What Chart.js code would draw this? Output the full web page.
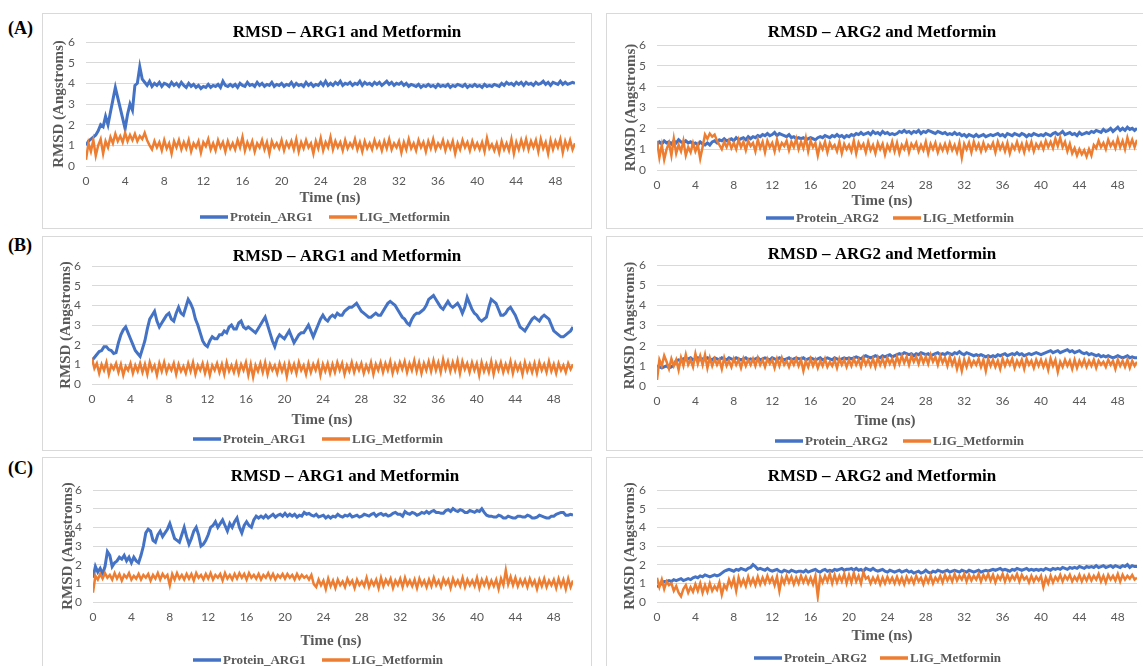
<!DOCTYPE html>
<html>
<head>
<meta charset="utf-8">
<script src="https://cdn.jsdelivr.net/npm/chart.js@4.4.0/dist/chart.umd.min.js"></script>
<style>
  body { margin: 0; width: 1143px; height: 666px; overflow: hidden; background: #fff; position: relative; }
  .box { position: absolute; border: 1px solid #d9d9d9; box-sizing: border-box; }
  canvas { position: absolute; }
  .tag { position: absolute; left: 8px; font: bold 18px "Liberation Serif", serif; color: #000; line-height: 20px; }
</style>
</head>
<body>
<div class="tag" style="top:18px">(A)</div>
<div class="tag" style="top:235px">(B)</div>
<div class="tag" style="top:458px">(C)</div>

<script>
// time axis (ns), one frame every 0.25 ns
const timeNs = [
  0,0.25,0.5,0.75,1,1.25,1.5,1.75,2,2.25,2.5,2.75,3,3.25,3.5,3.75,4,4.25,4.5,4.75,
  5,5.25,5.5,5.75,6,6.25,6.5,6.75,7,7.25,7.5,7.75,8,8.25,8.5,8.75,9,9.25,9.5,9.75,
  10,10.25,10.5,10.75,11,11.25,11.5,11.75,12,12.25,12.5,12.75,13,13.25,13.5,13.75,14,14.25,14.5,14.75,
  15,15.25,15.5,15.75,16,16.25,16.5,16.75,17,17.25,17.5,17.75,18,18.25,18.5,18.75,19,19.25,19.5,19.75,
  20,20.25,20.5,20.75,21,21.25,21.5,21.75,22,22.25,22.5,22.75,23,23.25,23.5,23.75,24,24.25,24.5,24.75,
  25,25.25,25.5,25.75,26,26.25,26.5,26.75,27,27.25,27.5,27.75,28,28.25,28.5,28.75,29,29.25,29.5,29.75,
  30,30.25,30.5,30.75,31,31.25,31.5,31.75,32,32.25,32.5,32.75,33,33.25,33.5,33.75,34,34.25,34.5,34.75,
  35,35.25,35.5,35.75,36,36.25,36.5,36.75,37,37.25,37.5,37.75,38,38.25,38.5,38.75,39,39.25,39.5,39.75,
  40,40.25,40.5,40.75,41,41.25,41.5,41.75,42,42.25,42.5,42.75,43,43.25,43.5,43.75,44,44.25,44.5,44.75,
  45,45.25,45.5,45.75,46,46.25,46.5,46.75,47,47.25,47.5,47.75,48,48.25,48.5,48.75,49,49.25,49.5,49.75,
  50];

const yTicks = [0, 1, 2, 3, 4, 5, 6];
const xTicks = [0, 4, 8, 12, 16, 20, 24, 28, 32, 36, 40, 44, 48];

// (A) ARG1 / Metformin
const aProtein = [
  1.0,1.2,1.3,1.4,1.5,1.7,2.0,1.9,2.4,2.0,2.6,3.2,3.8,3.3,2.8,2.3,1.8,2.5,3.0,2.7,
  3.9,4.0,4.8,4.2,4.05,3.9,4.1,3.85,4.0,3.9,4.05,3.85,4.0,3.95,3.85,4.05,3.9,4.0,3.85,4.05,
  3.9,3.8,4.0,3.85,3.95,3.8,3.9,3.75,3.85,3.8,3.95,3.8,3.9,3.85,3.95,3.8,4.1,3.9,3.85,3.95,
  3.85,3.95,3.8,4.0,3.9,3.85,4.05,3.9,3.95,3.85,4.05,3.9,4.0,3.85,3.95,3.9,4.05,3.85,3.95,3.9,
  4.0,3.85,3.95,3.9,4.05,3.85,4.0,3.9,3.95,3.85,4.05,3.9,4.0,3.85,3.95,3.9,4.05,3.9,4.1,3.9,
  4.0,3.9,4.05,3.95,4.1,3.9,4.0,3.95,4.05,3.9,4.0,3.95,4.1,3.9,4.05,3.95,4.0,3.9,4.05,3.95,
  4.05,3.9,4.0,4.1,3.95,4.05,3.9,4.0,3.95,4.05,3.9,4.0,3.85,3.95,3.9,3.85,3.95,3.8,3.9,3.85,
  3.95,3.85,3.9,3.8,3.95,3.85,3.9,3.85,3.95,3.8,3.9,3.85,3.95,3.9,3.85,3.95,3.8,3.9,3.85,3.95,
  3.85,3.9,3.8,3.95,3.85,3.9,3.85,3.95,3.9,3.85,4.0,3.9,4.05,3.95,4.0,3.9,4.05,3.95,4.05,3.9,
  4.05,3.95,4.0,3.9,4.05,3.95,4.0,4.1,3.95,4.05,3.9,4.05,4.0,3.95,4.1,3.95,4.05,3.95,4.0,4.05,
  4.0];
const aLig = [
  0.3,1.1,0.7,1.25,0.5,1.0,1.3,0.6,1.2,0.9,1.4,1.1,1.55,1.2,1.45,1.15,1.6,1.2,1.5,1.25,
  1.55,1.2,1.45,1.3,1.6,1.25,1.0,0.8,1.2,0.9,1.15,0.75,1.25,0.85,1.1,0.6,1.2,0.9,1.25,0.8,
  1.15,0.85,1.25,0.7,1.1,0.9,1.2,0.65,1.15,0.95,1.3,0.8,1.1,0.75,1.25,0.9,1.15,0.7,1.2,0.85,
  1.1,0.8,1.25,0.9,1.4,0.75,1.15,0.85,1.2,0.7,1.1,0.9,1.25,0.8,1.15,0.6,1.2,0.9,1.1,0.85,
  1.25,0.75,1.15,0.9,1.2,0.8,1.3,0.7,1.15,0.85,1.25,0.9,1.1,0.6,1.2,0.85,1.35,0.75,1.15,0.9,
  1.4,0.8,1.2,0.9,1.15,0.75,1.25,0.85,1.1,0.9,1.3,0.8,1.15,0.7,1.2,0.85,1.1,0.8,1.25,0.9,
  1.15,0.75,1.2,0.85,1.3,0.8,1.1,0.9,1.2,0.65,1.15,0.8,1.3,0.85,1.1,0.75,1.25,0.9,1.15,0.7,
  1.2,0.85,1.3,0.8,1.1,0.9,1.25,0.75,1.15,0.85,1.2,0.6,1.1,0.8,1.25,0.9,1.15,0.75,1.2,0.85,
  1.1,0.8,1.15,0.7,1.35,0.85,1.05,0.75,1.1,0.65,1.2,0.8,1.1,0.75,1.3,0.6,1.15,0.8,1.25,0.85,
  1.3,0.8,1.2,0.9,1.25,0.7,1.3,0.85,1.15,0.6,1.25,0.8,1.2,0.9,1.3,0.65,1.2,0.85,1.25,0.8,
  1.1];

// (A) ARG2 / Metformin
const a2Protein = [
  1.2,1.35,1.25,1.4,1.3,1.35,1.25,1.4,1.3,1.45,1.35,1.3,1.4,1.3,1.35,1.25,1.3,1.2,1.35,1.25,
  1.2,1.3,1.2,1.35,1.4,1.3,1.45,1.4,1.5,1.4,1.45,1.5,1.4,1.55,1.45,1.5,1.55,1.45,1.6,1.5,
  1.6,1.55,1.65,1.6,1.7,1.65,1.75,1.65,1.7,1.8,1.65,1.75,1.7,1.65,1.6,1.7,1.55,1.6,1.5,1.55,
  1.5,1.55,1.45,1.5,1.55,1.5,1.45,1.55,1.6,1.55,1.65,1.6,1.55,1.65,1.6,1.7,1.6,1.65,1.55,1.65,
  1.6,1.7,1.65,1.75,1.7,1.8,1.7,1.75,1.8,1.7,1.85,1.75,1.8,1.7,1.85,1.75,1.8,1.7,1.75,1.7,
  1.75,1.85,1.8,1.9,1.8,1.85,1.75,1.85,1.8,1.9,1.75,1.85,1.8,1.9,1.85,1.8,1.75,1.85,1.8,1.75,
  1.8,1.7,1.75,1.7,1.8,1.7,1.75,1.65,1.7,1.6,1.7,1.65,1.6,1.7,1.6,1.65,1.7,1.6,1.65,1.7,
  1.65,1.7,1.75,1.65,1.7,1.6,1.75,1.7,1.65,1.75,1.7,1.65,1.75,1.7,1.6,1.7,1.65,1.75,1.7,1.65,
  1.7,1.65,1.75,1.7,1.65,1.75,1.8,1.7,1.75,1.85,1.7,1.75,1.8,1.7,1.75,1.65,1.8,1.7,1.75,1.8,
  1.75,1.85,1.8,1.9,1.85,1.8,1.95,1.85,1.9,2.0,1.85,1.95,2.05,1.9,2.0,1.9,2.05,1.95,2.0,1.9,
  2.0];
const a2Lig = [
  1.4,0.6,1.2,0.5,1.0,1.3,0.7,1.5,0.8,1.2,0.9,1.4,0.7,1.1,0.85,1.3,0.9,1.2,0.55,1.1,
  1.7,1.5,1.75,1.6,1.7,1.4,1.2,1.0,1.35,1.1,1.4,1.05,1.3,1.0,1.45,1.1,1.35,0.95,1.4,1.15,
  1.3,0.9,1.45,1.05,1.35,0.85,1.4,1.1,1.3,0.9,1.45,1.0,1.3,1.15,1.4,0.95,1.35,1.1,1.5,1.0,
  1.35,1.05,1.55,0.9,1.4,1.1,1.3,0.7,1.25,1.0,1.35,0.85,1.3,1.05,1.2,0.9,1.35,0.8,1.25,1.0,
  1.2,0.9,1.4,0.8,1.3,1.05,1.25,0.85,1.35,0.95,1.2,0.8,1.3,1.0,1.25,0.75,1.2,0.95,1.35,0.9,
  1.3,0.8,1.2,1.0,1.35,0.85,1.25,1.05,1.3,0.9,1.2,0.95,1.35,0.8,1.25,1.0,1.3,0.85,1.2,0.95,
  1.25,0.9,1.3,0.95,1.2,0.85,1.3,0.6,1.25,1.0,1.3,0.85,1.35,1.0,1.25,0.9,1.3,0.95,1.2,1.05,
  1.3,0.85,1.35,1.0,1.25,0.9,1.3,0.8,1.2,1.0,1.35,0.95,1.25,0.85,1.3,1.0,1.35,0.9,1.25,1.05,
  1.3,1.0,1.4,1.1,1.35,1.05,1.5,1.15,1.55,1.1,1.35,0.9,1.25,0.8,1.05,0.7,1.0,0.75,0.95,0.65,
  1.0,0.7,1.2,1.05,1.4,1.1,1.3,1.0,1.45,1.15,1.35,1.05,1.5,1.1,1.4,1.0,1.55,1.15,1.45,1.1,
  1.45];

// (B) ARG1 / Metformin
const bProtein = [
  1.2,1.35,1.5,1.65,1.7,1.9,1.9,1.75,1.7,1.55,1.6,2.1,2.5,2.75,2.9,2.6,2.3,2.0,1.7,1.55,
  1.4,1.8,2.2,2.8,3.3,3.5,3.7,3.2,2.9,3.1,3.3,3.5,3.6,3.3,3.2,3.6,3.9,3.6,3.5,3.9,
  4.3,4.1,3.8,3.3,3.0,2.6,2.2,2.0,1.9,2.2,2.4,2.3,2.3,2.5,2.5,2.7,2.6,2.9,3.0,2.8,
  2.8,3.1,3.2,2.9,2.8,2.9,2.8,2.7,2.6,2.8,3.0,3.2,3.4,3.0,2.6,2.2,1.9,2.3,2.5,2.4,
  2.3,2.5,2.7,2.4,2.1,2.3,2.5,2.6,2.6,2.8,3.0,2.7,2.4,2.7,3.0,3.3,3.5,3.3,3.2,3.4,
  3.5,3.4,3.6,3.5,3.5,3.7,3.8,3.9,3.9,4.0,4.1,3.9,3.7,3.6,3.5,3.4,3.4,3.5,3.6,3.5,
  3.5,3.7,3.9,4.1,4.2,4.1,4.0,3.8,3.6,3.4,3.3,3.1,3.0,3.3,3.5,3.6,3.6,3.7,3.8,4.0,
  4.3,4.4,4.5,4.3,4.1,3.9,3.8,4.0,4.2,4.0,3.9,4.0,4.1,3.9,3.6,3.9,4.4,4.1,3.8,3.6,
  3.5,3.3,3.2,3.3,3.4,3.9,4.3,4.2,4.1,3.8,3.5,3.5,3.6,3.8,3.9,3.7,3.5,3.2,2.9,2.8,
  2.7,2.9,3.1,3.3,3.4,3.3,3.2,3.4,3.5,3.4,3.3,3.0,2.7,2.6,2.5,2.4,2.4,2.5,2.6,2.7,
  2.9];
const bLig = [
  1.3,0.8,1.05,0.55,1.0,0.7,1.1,0.5,0.95,0.75,1.05,0.6,1.0,0.45,0.9,0.7,1.05,0.55,0.95,0.65,
  1.05,0.6,1.0,0.5,1.1,0.7,0.95,0.45,1.05,0.65,1.1,0.6,0.95,0.7,1.05,0.5,1.0,0.65,0.9,0.55,
  1.05,0.65,1.1,0.5,0.95,0.7,1.05,0.55,1.0,0.45,0.95,0.7,1.05,0.6,1.0,0.5,1.1,0.65,0.95,0.6,
  1.05,0.55,1.0,0.7,1.1,0.45,1.0,0.35,0.95,0.65,1.05,0.6,1.1,0.5,1.0,0.7,0.95,0.55,1.05,0.65,
  1.0,0.4,1.05,0.65,1.0,0.55,1.1,0.7,0.95,0.5,1.05,0.6,1.0,0.7,1.1,0.45,1.0,0.65,1.05,0.55,
  1.0,0.6,1.1,0.7,1.05,0.5,0.95,0.65,1.1,0.6,1.0,0.7,1.05,0.55,0.95,0.65,1.1,0.5,1.0,0.7,
  1.1,0.6,1.05,0.7,1.15,0.55,1.0,0.65,1.1,0.75,1.15,0.6,1.05,0.7,1.2,0.65,1.1,0.55,1.05,0.7,
  1.15,0.65,1.2,0.7,1.1,0.6,1.25,0.75,1.15,0.65,1.1,0.7,1.2,0.55,1.15,0.75,1.05,0.6,1.1,0.7,
  1.05,0.45,1.1,0.65,1.0,0.6,1.15,0.5,1.05,0.7,1.1,0.6,1.0,0.65,1.15,0.55,1.05,0.7,1.0,0.5,
  1.1,0.65,1.0,0.6,1.05,0.55,1.1,0.7,1.0,0.6,1.15,0.65,1.0,0.55,1.05,0.7,0.95,0.6,1.05,0.75,
  1.0];

// (B) ARG2 / Metformin
const b2Protein = [
  1.0,0.95,0.9,0.95,1.0,0.9,0.95,1.05,1.25,1.3,1.25,1.35,1.3,1.35,1.4,1.3,1.35,1.4,1.3,1.35,
  1.3,1.4,1.35,1.3,1.4,1.35,1.3,1.4,1.35,1.3,1.4,1.35,1.3,1.4,1.35,1.3,1.35,1.4,1.3,1.35,
  1.3,1.35,1.4,1.3,1.35,1.4,1.35,1.3,1.4,1.35,1.3,1.4,1.35,1.3,1.35,1.4,1.3,1.35,1.4,1.35,
  1.35,1.4,1.3,1.35,1.4,1.35,1.3,1.35,1.4,1.3,1.35,1.4,1.35,1.3,1.4,1.35,1.3,1.35,1.4,1.35,
  1.4,1.35,1.4,1.45,1.4,1.35,1.45,1.5,1.45,1.4,1.45,1.5,1.45,1.4,1.5,1.45,1.5,1.55,1.45,1.5,
  1.55,1.6,1.55,1.65,1.6,1.55,1.6,1.5,1.6,1.55,1.65,1.6,1.55,1.6,1.5,1.55,1.6,1.65,1.55,1.6,
  1.55,1.65,1.6,1.55,1.65,1.6,1.7,1.6,1.55,1.65,1.6,1.55,1.5,1.55,1.5,1.55,1.5,1.45,1.5,1.45,
  1.5,1.45,1.55,1.5,1.55,1.6,1.5,1.55,1.6,1.55,1.65,1.55,1.6,1.5,1.55,1.6,1.55,1.6,1.65,1.6,
  1.55,1.6,1.65,1.7,1.75,1.65,1.7,1.75,1.65,1.7,1.75,1.8,1.7,1.75,1.65,1.7,1.75,1.65,1.6,1.65,
  1.55,1.6,1.55,1.5,1.55,1.45,1.5,1.45,1.5,1.45,1.4,1.45,1.5,1.45,1.4,1.45,1.5,1.4,1.45,1.4,
  1.4];
const b2Lig = [
  0.3,1.3,1.0,1.5,1.2,0.85,1.35,1.0,1.3,0.8,1.4,1.0,1.55,1.05,1.3,0.95,1.6,1.1,1.5,1.05,
  1.55,0.9,1.4,1.0,1.35,1.05,1.3,0.85,1.4,1.0,1.25,0.95,1.35,1.05,1.3,0.9,1.35,1.0,1.3,1.05,
  1.35,1.0,1.4,1.05,1.3,0.95,1.35,1.1,1.3,0.9,1.35,1.0,1.4,1.05,1.25,0.95,1.3,1.05,1.35,1.0,
  1.3,0.75,1.25,0.95,1.35,1.0,1.3,0.9,1.25,1.0,1.35,0.95,1.2,1.0,1.3,0.9,1.35,1.05,1.3,0.95,
  1.3,1.0,1.35,1.05,1.3,0.95,1.4,1.05,1.3,1.0,1.35,0.95,1.4,1.05,1.35,1.0,1.4,1.1,1.35,1.0,
  1.45,1.1,1.5,1.15,1.45,1.05,1.5,1.2,1.45,1.1,1.5,1.15,1.45,1.1,1.55,1.2,1.45,1.05,1.5,1.15,
  1.4,1.0,1.45,1.05,1.35,0.85,1.3,0.75,1.3,0.95,1.35,1.0,1.25,1.05,1.35,0.95,1.3,0.75,1.35,1.0,
  1.3,0.95,1.25,0.85,1.35,1.0,1.3,1.05,1.35,0.9,1.25,1.0,1.3,0.85,1.35,1.05,1.25,0.9,1.3,1.0,
  1.3,0.95,1.25,0.8,1.35,1.0,1.3,0.7,1.2,0.95,1.3,1.0,1.25,0.85,1.3,0.9,1.25,1.0,1.3,0.95,
  1.25,1.0,1.3,0.9,1.25,1.05,1.2,0.95,1.3,1.05,1.25,0.85,1.3,1.0,1.25,0.95,1.3,0.9,1.25,1.0,
  1.2];

// (C) ARG1 / Metformin
const cProtein = [
  1.3,1.9,1.6,1.8,1.5,1.9,2.7,2.5,1.9,2.1,2.2,2.4,2.3,2.5,2.2,2.4,2.1,2.4,2.2,2.1,
  2.5,3.0,3.7,3.9,3.8,3.3,3.2,3.6,3.8,3.5,3.7,3.9,4.2,3.8,3.4,3.3,3.2,3.6,4.0,3.5,
  3.1,3.4,3.8,4.0,3.6,3.0,3.1,3.3,3.6,4.0,4.1,4.3,4.0,4.2,4.4,4.1,3.8,4.2,4.0,4.3,
  4.5,4.0,3.7,4.1,4.3,4.1,4.0,4.4,4.6,4.5,4.6,4.5,4.65,4.5,4.6,4.7,4.55,4.65,4.7,4.6,
  4.75,4.6,4.7,4.6,4.7,4.55,4.65,4.6,4.8,4.7,4.75,4.65,4.6,4.7,4.55,4.6,4.65,4.5,4.6,4.5,
  4.6,4.55,4.7,4.6,4.55,4.65,4.6,4.7,4.55,4.6,4.65,4.55,4.6,4.7,4.65,4.6,4.7,4.75,4.6,4.7,
  4.75,4.65,4.7,4.6,4.65,4.75,4.8,4.7,4.7,4.6,4.85,4.75,4.7,4.8,4.75,4.65,4.7,4.8,4.75,4.85,
  4.75,4.85,4.9,4.8,4.8,4.75,4.75,4.9,4.95,4.85,5.0,4.9,4.85,4.95,4.9,4.8,4.8,4.9,4.85,4.8,
  4.9,4.85,5.0,4.8,4.65,4.6,4.6,4.55,4.55,4.65,4.6,4.5,4.5,4.6,4.55,4.5,4.5,4.6,4.6,4.55,
  4.55,4.65,4.6,4.5,4.5,4.55,4.65,4.6,4.55,4.5,4.5,4.6,4.6,4.7,4.75,4.8,4.8,4.65,4.65,4.7,
  4.65];
const cLig = [
  0.5,1.4,1.2,1.5,1.25,1.55,1.3,1.45,1.2,1.55,1.25,1.5,1.15,1.45,1.3,1.55,1.2,1.4,1.25,1.5,
  1.2,1.45,1.3,1.5,1.15,1.45,1.25,1.55,1.2,1.5,1.3,1.45,0.9,1.5,1.2,1.55,1.25,1.45,1.2,1.5,
  1.25,1.5,1.15,1.55,1.3,1.45,1.2,1.5,1.25,1.55,1.2,1.45,1.3,1.5,1.15,1.55,1.25,1.45,1.2,1.5,
  1.25,1.55,1.3,1.5,1.2,1.55,1.3,1.45,1.25,1.5,1.2,1.45,1.3,1.55,1.25,1.5,1.2,1.45,1.3,1.5,
  1.25,1.5,1.3,1.45,1.2,1.5,1.25,1.45,1.3,1.4,1.2,1.45,0.95,0.8,1.2,0.9,1.15,0.7,1.25,0.85,
  1.15,0.75,1.2,0.9,1.1,0.8,1.25,0.95,1.15,0.75,1.2,0.9,1.1,0.85,1.3,0.8,1.15,0.9,1.2,0.75,
  1.3,0.85,1.2,0.95,1.25,0.75,1.15,0.9,1.25,0.8,1.3,0.9,1.15,0.85,1.2,0.75,1.25,0.9,1.15,0.8,
  1.2,0.85,1.3,0.9,1.15,0.8,1.25,0.95,1.2,0.75,1.25,0.9,1.15,0.85,1.3,0.8,1.2,0.9,1.15,0.85,
  1.3,0.75,1.2,0.9,1.25,0.8,1.15,0.85,1.2,0.7,1.25,0.9,1.7,0.95,1.35,0.9,1.3,0.85,1.2,0.9,
  1.2,0.8,1.25,0.9,1.15,0.7,1.2,0.85,1.25,0.8,1.15,0.9,1.2,0.75,1.25,0.85,1.2,0.7,1.25,0.8,
  1.15];

// (C) ARG2 / Metformin
const c2Protein = [
  0.8,0.9,1.0,1.1,1.1,1.15,1.1,1.2,1.15,1.2,1.25,1.15,1.2,1.25,1.2,1.3,1.35,1.3,1.4,1.35,
  1.45,1.4,1.35,1.4,1.45,1.4,1.45,1.55,1.65,1.7,1.75,1.7,1.65,1.75,1.7,1.8,1.75,1.7,1.8,1.85,
  2.0,1.9,1.75,1.8,1.75,1.7,1.8,1.7,1.65,1.7,1.75,1.65,1.6,1.7,1.65,1.6,1.7,1.65,1.6,1.65,
  1.65,1.6,1.7,1.6,1.65,1.7,1.75,1.65,1.6,1.7,1.75,1.65,1.7,1.65,1.75,1.7,1.75,1.8,1.7,1.75,
  1.75,1.8,1.7,1.8,1.7,1.75,1.65,1.8,1.75,1.7,1.8,1.7,1.65,1.7,1.75,1.65,1.6,1.7,1.65,1.6,
  1.65,1.7,1.6,1.65,1.7,1.6,1.65,1.55,1.6,1.65,1.55,1.6,1.7,1.6,1.55,1.65,1.6,1.7,1.65,1.6,
  1.65,1.7,1.6,1.65,1.7,1.65,1.6,1.7,1.65,1.6,1.7,1.65,1.6,1.65,1.7,1.6,1.65,1.7,1.65,1.7,
  1.75,1.7,1.75,1.8,1.7,1.75,1.7,1.65,1.75,1.7,1.8,1.75,1.7,1.75,1.8,1.7,1.75,1.7,1.75,1.7,
  1.75,1.7,1.8,1.75,1.7,1.8,1.75,1.8,1.75,1.85,1.8,1.75,1.85,1.8,1.85,1.8,1.9,1.85,1.8,1.9,
  1.85,1.9,1.85,1.95,1.85,1.9,1.95,1.85,1.9,1.95,1.85,1.95,1.9,1.85,1.95,1.9,2.0,1.85,1.95,1.9,
  1.9];
const c2Lig = [
  1.3,0.8,1.2,0.7,1.1,0.9,1.0,0.6,0.85,0.5,0.3,0.7,0.9,0.5,0.8,0.55,0.95,0.6,1.0,0.5,
  0.9,0.55,1.0,0.6,0.85,0.65,1.05,0.4,0.9,0.7,1.2,0.85,1.25,0.6,1.3,0.9,1.2,0.85,1.35,0.95,
  1.25,0.9,1.35,0.95,1.3,1.0,1.4,1.05,1.3,0.9,1.35,0.6,1.3,1.0,1.4,1.05,1.35,0.95,1.3,1.0,
  1.4,1.05,1.35,1.0,1.3,0.95,1.4,0.3,1.35,1.05,1.4,1.1,1.5,1.0,1.45,1.05,1.4,1.1,1.5,1.0,
  1.45,1.05,1.55,1.1,1.4,1.0,1.6,1.25,1.35,1.0,1.3,1.05,1.35,0.95,1.3,1.0,1.35,1.05,1.3,1.0,
  1.35,1.0,1.3,0.95,1.35,1.05,1.3,1.0,1.4,1.1,1.3,0.95,1.35,1.05,1.4,1.0,1.3,1.1,1.4,1.05,
  1.45,1.15,1.4,1.1,1.5,1.15,1.4,1.2,1.5,1.1,1.45,1.15,1.4,1.2,1.5,1.1,1.45,1.2,1.5,1.15,
  1.45,1.05,1.4,1.2,1.5,1.1,1.45,1.15,1.4,1.2,1.5,1.1,1.45,1.2,1.35,1.05,1.4,1.1,1.35,1.15,
  1.4,0.8,1.3,1.0,1.4,1.05,1.35,1.15,1.45,1.1,1.4,1.2,1.45,1.1,1.35,1.15,1.45,1.1,1.4,1.15,
  1.45,1.15,1.4,1.2,1.5,1.1,1.4,1.05,1.45,1.2,1.4,1.15,1.5,1.1,1.45,1.2,1.4,1.25,1.45,1.2,
  1.3];

const BLUE = '#4472C4';
const ORANGE = '#ED7D31';
const GRID = '#d9d9d9';
const TEXT_GREY = '#595959';

// Panel layout: box = [x, y, w, h], plot = [left, top, right, bottom] (page coords)
const panels = [
  { protein: aProtein, lig: aLig, proteinLabel: 'Protein_ARG1', title: 'RMSD \u2013 ARG1 and Metformin',
    box: [42, 13, 550, 216], plot: [86, 42, 575, 166], yTitleX: 59,
    titleXY: [347, 33], xTitleXY: [330, 198], legend: [200, 329, 217] },
  { protein: a2Protein, lig: a2Lig, proteinLabel: 'Protein_ARG2', title: 'RMSD \u2013 ARG2 and Metformin',
    box: [606, 13, 545, 216], plot: [657, 45, 1137, 170], yTitleX: 631,
    titleXY: [882, 33], xTitleXY: [882, 201], legend: [766, 893, 218] },
  { protein: bProtein, lig: bLig, proteinLabel: 'Protein_ARG1', title: 'RMSD \u2013 ARG1 and Metformin',
    box: [42, 236, 550, 215], plot: [92, 266, 573, 384], yTitleX: 66,
    titleXY: [347, 257], xTitleXY: [322, 420], legend: [193, 322, 439] },
  { protein: b2Protein, lig: b2Lig, proteinLabel: 'Protein_ARG2', title: 'RMSD \u2013 ARG2 and Metformin',
    box: [606, 236, 545, 215], plot: [657, 265, 1137, 386], yTitleX: 630,
    titleXY: [882, 255], xTitleXY: [885, 421], legend: [775, 903, 441] },
  { protein: cProtein, lig: cLig, proteinLabel: 'Protein_ARG1', title: 'RMSD \u2013 ARG1 and Metformin',
    box: [42, 457, 550, 216], plot: [93, 490, 573, 602], yTitleX: 68,
    titleXY: [345, 477], xTitleXY: [331, 641], legend: [193, 322, 660] },
  { protein: c2Protein, lig: c2Lig, proteinLabel: 'Protein_ARG2', title: 'RMSD \u2013 ARG2 and Metformin',
    box: [606, 457, 545, 216], plot: [657, 490, 1137, 602], yTitleX: 630,
    titleXY: [882, 477], xTitleXY: [882, 636], legend: [754, 880, 658] }
];

// draws chart title, x-axis title and legend at fixed spots (Excel-like)
const panelText = {
  id: 'panelText',
  afterDraw(chart, args, o) {
    const ctx = chart.ctx;
    ctx.save();
    ctx.textBaseline = 'middle';
    ctx.textAlign = 'center';
    ctx.fillStyle = '#000';
    ctx.font = 'bold 17px "Liberation Serif"';
    ctx.fillText(o.title, o.titleX, o.titleY);
    ctx.fillStyle = TEXT_GREY;
    ctx.font = 'bold 15px "Liberation Serif"';
    ctx.fillText('Time (ns)', o.xTitleX, o.xTitleY);
    ctx.font = 'bold 13px "Liberation Serif"';
    ctx.textAlign = 'left';
    chart.data.datasets.forEach((ds, i) => {
      const x = o.legendX[i];
      ctx.strokeStyle = ds.borderColor;
      ctx.lineWidth = 3.5;
      ctx.beginPath();
      ctx.moveTo(x, o.legendY);
      ctx.lineTo(x + 28, o.legendY);
      ctx.stroke();
      ctx.fillText(ds.label, x + 30, o.legendY + 1);
    });
    ctx.restore();
  }
};

const X_AXIS_H = 32;

panels.forEach(p => {
  const [bx, by, bw, bh] = p.box;
  const [pl, pt, pr, pb] = p.plot;

  const frame = document.createElement('div');
  frame.className = 'box';
  frame.style.cssText = `left:${bx}px;top:${by}px;width:${bw}px;height:${bh}px`;
  document.body.appendChild(frame);

  const canvas = document.createElement('canvas');
  canvas.width = bw;
  canvas.height = bh;
  canvas.style.cssText = `left:${bx}px;top:${by}px`;
  document.body.appendChild(canvas);

  const padLeft = p.yTitleX - bx - 9;
  const yAxisW = (pl - bx) - padLeft;

  new Chart(canvas, {
    type: 'line',
    data: {
      labels: timeNs,
      datasets: [
        { label: p.proteinLabel, data: p.protein, borderColor: BLUE, backgroundColor: BLUE,
          borderWidth: 3, pointRadius: 0, tension: 0, order: 1 },
        { label: 'LIG_Metformin', data: p.lig, borderColor: ORANGE, backgroundColor: ORANGE,
          borderWidth: 2.5, pointRadius: 0, tension: 0, order: 0 }
      ]
    },
    options: {
      responsive: false,
      animation: false,
      layout: {
        autoPadding: false,
        padding: { left: padLeft, top: pt - by, right: bw - (pr - bx), bottom: bh - (pb - by) - X_AXIS_H }
      },
      plugins: {
        legend: { display: false },
        title: { display: false },
        tooltip: { enabled: false },
        panelText: {
          title: p.title,
          titleX: p.titleXY[0] - bx, titleY: p.titleXY[1] - by,
          xTitleX: p.xTitleXY[0] - bx, xTitleY: p.xTitleXY[1] - by,
          legendX: [p.legend[0] - bx, p.legend[1] - bx], legendY: p.legend[2] - by
        }
      },
      scales: {
        x: {
          type: 'linear',
          min: 0,
          max: 50,
          grid: { display: false, drawTicks: false },
          border: { display: false },
          afterBuildTicks: s => { s.ticks = xTicks.map(v => ({ value: v })); },
          ticks: { padding: 8, maxRotation: 0, autoSkip: false, color: TEXT_GREY, font: { family: 'Lato', size: 12 } },
          afterFit: s => { s.height = X_AXIS_H; }
        },
        y: {
          min: 0,
          max: 6,
          afterBuildTicks: s => { s.ticks = yTicks.map(v => ({ value: v })); },
          grid: { color: GRID, lineWidth: 1, drawTicks: false },
          border: { display: false },
          ticks: { padding: 11, color: TEXT_GREY, font: { family: 'Lato', size: 12 } },
          title: {
            display: true, text: 'RMSD (Angstroms)', color: TEXT_GREY, padding: 0,
            font: { family: 'Liberation Serif', size: 15, weight: 'bold' }
          },
          afterFit: s => { s.width = yAxisW; }
        }
      }
    },
    plugins: [panelText]
  });
});
</script>
</body>
</html>
